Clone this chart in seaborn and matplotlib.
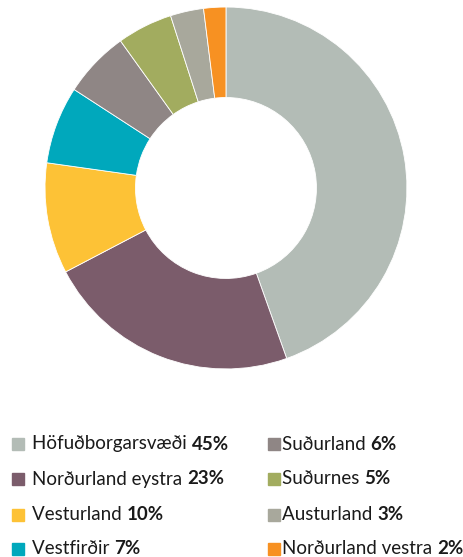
import matplotlib
matplotlib.use("Agg")
import matplotlib.pyplot as plt
import seaborn as sns

sns.set_theme(style="white")
plt.rcParams["font.family"] = ["Lato", "DejaVu Sans"]

# data
regions = ["Höfuðborgarsvæði", "Norðurland eystra", "Vesturland", "Vestfirðir",
           "Suðurland", "Suðurnes", "Austurland", "Norðurland vestra"]
shares = [45, 23, 10, 7, 6, 5, 3, 2]
colors = ["#b3bcb6", "#7b5c6b", "#fdc236", "#00a8bc",
          "#8f8685", "#a2ac5f", "#a8a89c", "#f79122"]

fig = plt.figure(figsize=(4.64, 5.57), dpi=100)
ax = fig.add_axes([0.097, 0.3375, 0.78, 0.65])
ax.pie(shares, colors=colors, startangle=90, counterclock=False,
       wedgeprops=dict(width=0.5, edgecolor="white", linewidth=0.6))
ax.set_xlim(-1, 1)
ax.set_ylim(-1, 1)
ax.set_aspect("equal")

# legend drawn by hand so the percentages can be bold
fig.canvas.draw()
renderer = fig.canvas.get_renderer()
W, H = 464, 557
row_y = [444, 479, 515, 549]
col_x = [12, 268]
for i, (name, val, col) in enumerate(zip(regions, shares, colors)):
    c, r = divmod(i, 4)
    x0 = col_x[c]
    y = row_y[r]
    fig.patches.append(plt.Rectangle((x0 / W, 1 - (y + 6) / H), 12 / W, 12 / H,
                                     transform=fig.transFigure, color=col, figure=fig))
    tx = x0 + (20 if c == 0 else 14)
    t = fig.text(tx / W, 1 - y / H, name + " ", fontsize=13.5, color="#1a1a1a",
                 va="center", ha="left")
    bb = t.get_window_extent(renderer)
    fig.text(bb.x1 / W, 1 - y / H, f"{val}%", fontsize=13.5, fontweight="bold",
             color="#1a1a1a", va="center", ha="left")

fig.savefig("out.png", dpi=100)
